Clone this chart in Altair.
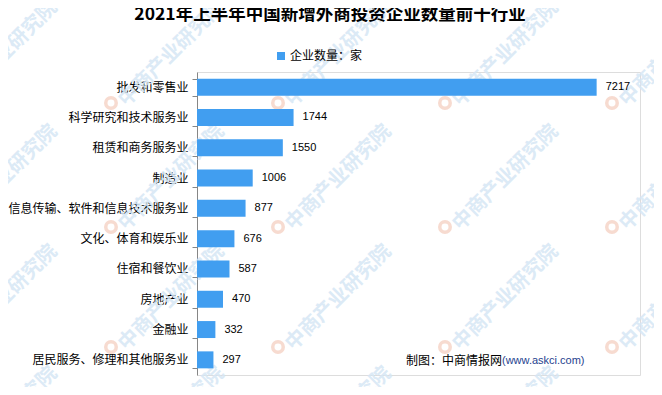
import altair as alt
import pandas as pd

categories = ["批发和零售业", "科学研究和技术服务业", "租赁和商务服务业", "制造业",
              "信息传输、软件和信息技术服务业", "文化、体育和娱乐业", "住宿和餐饮业",
              "房地产业", "金融业", "居民服务、修理和其他服务业"]
values = [7217, 1744, 1550, 1006, 877, 676, 587, 470, 332, 297]
series_name = "企业数量：家"
title_text = "2021年上半年中国新增外商投资企业数量前十行业"
source_cn = "制图：中商情报网"
source_url = "(www.askci.com)"
watermark = "中商产业研究院"

# decorative watermark grid (pixel layout, relative to plot area)
WM_X = [-242, -75, 92, 259, 426]
WM_Y = [31, 155, 275, 397]

FONT = "Noto Sans CJK SC"
BLUE = "#419ef0"
W, H = 443, 303

df = pd.DataFrame({"cat": categories, "val": values, "series": series_name})
wm = pd.DataFrame([{"px": x, "py": y, "lx": x - 11, "t": watermark}
                   for x in WM_X for y in WM_Y])

wm_text = alt.Chart(wm).mark_text(
    align="left", baseline="middle", angle=315, font=FONT, fontSize=20,
    fontWeight="bold", color="#d6e7f5", opacity=0.85
).encode(
    x=alt.X("px:Q", scale=None, axis=None),
    y=alt.Y("py:Q", scale=None, axis=None),
    text="t:N",
)
wm_logo = alt.Chart(wm).mark_point(
    shape="circle", filled=False, strokeWidth=3.5, size=110, color="#f7d8cc", opacity=0.9
).encode(
    x=alt.X("lx:Q", scale=None, axis=None),
    y=alt.Y("py:Q", scale=None, axis=None),
)
wm_layer = alt.layer(wm_logo, wm_text)

y_enc = alt.Y(
    "cat:N", sort=categories, title=None,
    scale=alt.Scale(paddingInner=0.44, paddingOuter=0.22),
    axis=alt.Axis(labelFont=FONT, labelFontSize=12, labelColor="#000000",
                  domainColor="#868686", tickColor="#868686", tickSize=5,
                  labelPadding=4, tickBand="extent", grid=False, labelLimit=400),
)
x_enc = alt.X("val:Q", scale=alt.Scale(domain=[0, 8000]), axis=None)

bars = alt.Chart(df).mark_bar(color=BLUE).encode(
    x=x_enc, y=y_enc,
    color=alt.Color("series:N", scale=alt.Scale(range=[BLUE]),
                    legend=alt.Legend(title=None, orient="none", legendX=78, legendY=-22,
                                      symbolType="square", symbolSize=64,
                                      symbolStrokeWidth=0, labelFont=FONT,
                                      labelFontSize=12, labelColor="#000000",
                                      labelOffset=3, padding=0)),
)

labels = alt.Chart(df).mark_text(
    align="left", baseline="middle", dx=9, font="Liberation Sans", fontSize=11,
    color="#000000"
).encode(x=x_enc, y=y_enc, text="val:Q")

title = alt.Chart(pd.DataFrame({"t": [title_text]})).mark_text(
    align="center", baseline="middle", font=FONT, fontSize=17.5, fontWeight="bold",
    color="#000000"
).encode(x=alt.value(133), y=alt.value(-57), text="t:N")

src1 = alt.Chart(pd.DataFrame({"t": [source_cn]})).mark_text(
    align="left", baseline="middle", font=FONT, fontSize=12, color="#000000"
).encode(x=alt.value(209), y=alt.value(289), text="t:N")

src2 = alt.Chart(pd.DataFrame({"t": [source_url]})).mark_text(
    align="left", baseline="middle", font="Liberation Sans", fontSize=11, color="#1f3f8f"
).encode(x=alt.value(305), y=alt.value(289), text="t:N")

main = alt.layer(bars, labels, title, src1, src2)

chart = alt.layer(wm_layer, main).resolve_scale(
    x="independent", y="independent"
).properties(
    width=W, height=H,
    autosize=alt.AutoSizeParams(type="none"),
    padding={"left": 189, "top": 64, "right": 14, "bottom": 12},
).configure_view(stroke=None).configure(background="white")

chart.save("out.html", embed_options={"renderer": "svg", "actions": False})
